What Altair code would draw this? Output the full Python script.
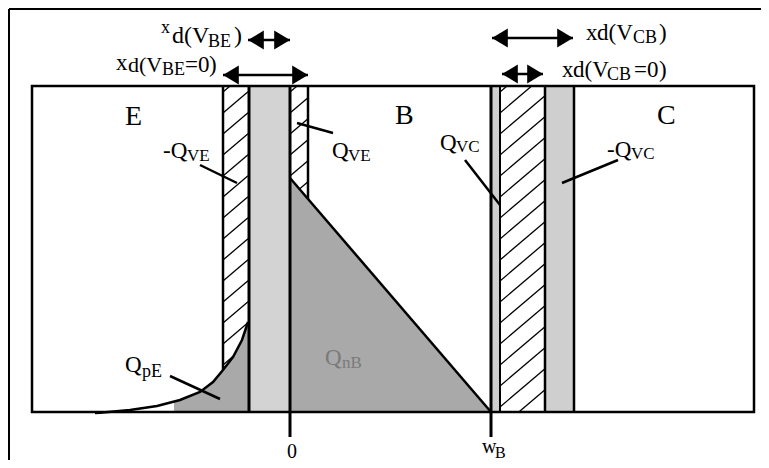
import altair as alt
import pandas as pd
import numpy as np

# ---------------- data (drawing units = page pixels) ----------------
# outer frame (left and top edges) and inner device box
frame_left, frame_top = 9, 9
box_left, box_right, box_top, box_bottom = 32, 754, 86, 412

# shaded depletion strips (light grey)
strip_x1 = [249, 491, 545]
strip_x2 = [290, 500, 574]
strip_color = ["#d3d3d3", "#cfcfcf", "#cfcfcf"]

# Q_nB triangle (minority electrons in base)
qnb_x = [290, 491]
qnb_y = [178, 412]

# Q_pE curve (minority holes in emitter)
qpe_x = [95, 100, 130, 157, 180, 200, 213, 223, 233, 242, 248]
qpe_y = [413, 412.7, 410, 406, 400, 392, 382, 370, 357, 340, 322]
qpe_fill_start = 174

# hatched regions: (left, right)
hatch_left = [223, 290, 500]
hatch_right = [248, 308, 545]
hatch_spacing = 21
hatch_slope = 0.85

# vertical boundary lines
vline_x = [223, 249, 290, 308, 491, 500, 545, 574]
vline_top = [86, 86, 86, 86, 86, 86, 86, 86]
vline_bot = [370, 412, 437, 199, 437, 412, 412, 412]
vline_w = [2.5, 3, 3, 2.5, 3, 2, 2.5, 2.5]

# leader lines from labels
lead_x1 = [200, 333, 465, 618, 170]
lead_y1 = [165, 133, 160, 160, 376]
lead_x2 = [237, 297, 500, 562, 220]
lead_y2 = [183, 123, 205, 183, 399]

# double-headed arrows (depletion widths)
arr_x1 = [248, 223, 492, 502]
arr_x2 = [290, 308, 573, 543]
arr_y = [40, 75, 38, 74]

# text pieces (text, left x, baseline y, size, colour)
label_text = ["x", "d(V", "BE", ")",
              "x", "d(V", "BE", "=0", ")",
              "x", "d(V", "CB", ")",
              "x", "d(V", "CB", "=0", ")",
              "E", "B", "C",
              "-Q", "VE", "Q", "VE", "Q", "VC", "-Q", "VC",
              "Q", "pE", "Q", "nB",
              "0", "w", "B"]
label_x = [161, 172, 208, 234,
           116, 128, 162, 185, 209,
           586, 597, 633, 659,
           562, 573, 607, 634, 659,
           125, 395, 657,
           163, 187, 332, 348, 440, 456, 607, 631,
           125, 142, 325, 342,
           287, 482, 495]
label_y = [33, 43, 47, 43,
           70, 72, 75, 72, 72,
           40, 40, 43, 40,
           77, 77, 80, 77, 77,
           125, 124, 124,
           158, 161, 158, 161, 150, 152, 157, 159,
           372, 377, 365, 368,
           458, 453, 458]
label_size = [18, 24, 18, 24,
              23, 22, 18, 23, 23,
              23, 23, 18, 23,
              23, 23, 18, 23, 23,
              28, 28, 28,
              23, 17, 23, 17, 23, 17, 23, 17,
              23, 18, 23, 17,
              20, 20, 16]
label_color = ["#000000"] * 29 + ["#000000", "#000000", "#7a7a7a", "#7a7a7a"] + ["#000000"] * 3

# ---------------- helpers ----------------
xs = alt.Scale(domain=[8, 761], nice=False, zero=False)
ys = alt.Scale(domain=[8, 460], nice=False, zero=False, reverse=True)


def X(f):
    return alt.X(f, type="quantitative", scale=xs, axis=None)


def Y(f):
    return alt.Y(f, type="quantitative", scale=ys, axis=None)


def curve_y(x):
    return np.interp(x, qpe_x, qpe_y)


def tri_y(x):
    return np.interp(x, qnb_x, qnb_y)


def flat_bottom(x):
    return np.full_like(np.asarray(x, dtype=float), box_bottom)


bottoms = [curve_y, tri_y, flat_bottom]

hx1, hy1, hx2, hy2 = [], [], [], []
for xa, xb, bfn in zip(hatch_left, hatch_right, bottoms):
    xx = np.linspace(xa, xb, 400)
    yb = bfn(xx)
    c = box_top + 6
    while c < box_bottom + hatch_slope * (xb - xa) + hatch_spacing:
        yy = c - hatch_slope * (xx - xa)
        ok = (yy >= box_top) & (yy <= yb)
        if ok.any():
            idx = np.where(ok)[0]
            i0, i1 = idx[0], idx[-1]
            if i1 > i0:
                hx1.append(xx[i0]); hy1.append(yy[i0])
                hx2.append(xx[i1]); hy2.append(yy[i1])
        c += hatch_spacing

hatch_df = pd.DataFrame({"x": hx1, "y": hy1, "x2": hx2, "y2": hy2})

strips_df = pd.DataFrame({"x": strip_x1, "x2": strip_x2, "y": box_top, "y2": box_bottom, "c": strip_color})
tri_df = pd.DataFrame({"x": qnb_x, "y": qnb_y, "b": box_bottom})

fx = [qpe_fill_start] + [v for v in qpe_x if v > qpe_fill_start]
fy = [float(curve_y(qpe_fill_start))] + [yv for v, yv in zip(qpe_x, qpe_y) if v > qpe_fill_start]
qpe_fill_df = pd.DataFrame({"x": fx, "y": fy, "b": box_bottom})
qpe_df = pd.DataFrame({"x": qpe_x, "y": qpe_y, "i": range(len(qpe_x))})

vline_df = pd.DataFrame({"x": vline_x, "y": vline_top, "y2": vline_bot, "w": vline_w})
lead_df = pd.DataFrame({"x": lead_x1, "y": lead_y1, "x2": lead_x2, "y2": lead_y2})
arr_df = pd.DataFrame({"x": arr_x1, "x2": arr_x2, "y": arr_y})
box_df = pd.DataFrame({"x": [box_left], "x2": [box_right], "y": [box_top], "y2": [box_bottom]})
frame_df = pd.DataFrame({"x": [frame_left, frame_left], "x2": [frame_left, 769],
                         "y": [frame_top, frame_top], "y2": [468, frame_top]})
text_df = pd.DataFrame({"t": label_text, "x": label_x, "y": label_y,
                        "s": label_size, "c": label_color})

# ---------------- layers ----------------
strips = alt.Chart(strips_df).mark_rect().encode(
    x=X("x"), x2="x2", y=Y("y"), y2="y2", color=alt.Color("c:N", scale=None))

tri = alt.Chart(tri_df).mark_area(color="#a9a9a9", opacity=1).encode(
    x=X("x"), y=Y("y"), y2="b")
tri_edge = alt.Chart(tri_df).mark_line(color="black", strokeWidth=2.5).encode(
    x=X("x"), y=Y("y"))

qpe_fill = alt.Chart(qpe_fill_df).mark_area(color="#a9a9a9", opacity=1).encode(
    x=X("x"), y=Y("y"), y2="b")
qpe_line = alt.Chart(qpe_df).mark_line(color="black", strokeWidth=2.5).encode(
    x=X("x"), y=Y("y"), order="i:Q")

hatch = alt.Chart(hatch_df).mark_rule(color="black", strokeWidth=1.3).encode(
    x=X("x"), y=Y("y"), x2="x2", y2="y2")

box = alt.Chart(box_df).mark_rect(fill=None, stroke="black", strokeWidth=2.5).encode(
    x=X("x"), x2="x2", y=Y("y"), y2="y2")

frame = alt.Chart(frame_df).mark_rule(color="black", strokeWidth=2).encode(
    x=X("x"), x2="x2", y=Y("y"), y2="y2")

vlines = alt.Chart(vline_df).mark_rule(color="black").encode(
    x=X("x"), y=Y("y"), y2="y2", strokeWidth=alt.StrokeWidth("w:Q", scale=None))

leads = alt.Chart(lead_df).mark_rule(color="black", strokeWidth=2.5).encode(
    x=X("x"), y=Y("y"), x2="x2", y2="y2")

shafts = alt.Chart(arr_df).mark_rule(color="black", strokeWidth=2.5).encode(
    x=X("x"), x2="x2", y=Y("y"))
head_l = alt.Chart(arr_df).mark_point(
    shape="M0,0 L1,-0.6 L1,0.6 Z", filled=True, size=1000, color="black", opacity=1, strokeWidth=0
).encode(x=X("x"), y=Y("y"))
head_r = alt.Chart(arr_df).mark_point(
    shape="M0,0 L-1,-0.6 L-1,0.6 Z", filled=True, size=1000, color="black", opacity=1, strokeWidth=0
).encode(x=X("x2"), y=Y("y"))

texts = alt.Chart(text_df).mark_text(
    align="left", baseline="alphabetic", font="Liberation Serif"
).encode(
    x=X("x"), y=Y("y"), text="t:N",
    size=alt.Size("s:Q", scale=None), color=alt.Color("c:N", scale=None))

chart = alt.layer(
    strips, tri, qpe_fill, hatch, tri_edge, qpe_line, box, vlines, frame,
    leads, shafts, head_l, head_r, texts
).properties(
    width=753, height=452,
    autosize=alt.AutoSizeParams(type="none"),
    padding=0,
    background="white",
).configure_view(strokeWidth=0, strokeOpacity=0)

chart.save("out.html", embed_options={"renderer": "svg", "actions": False})
